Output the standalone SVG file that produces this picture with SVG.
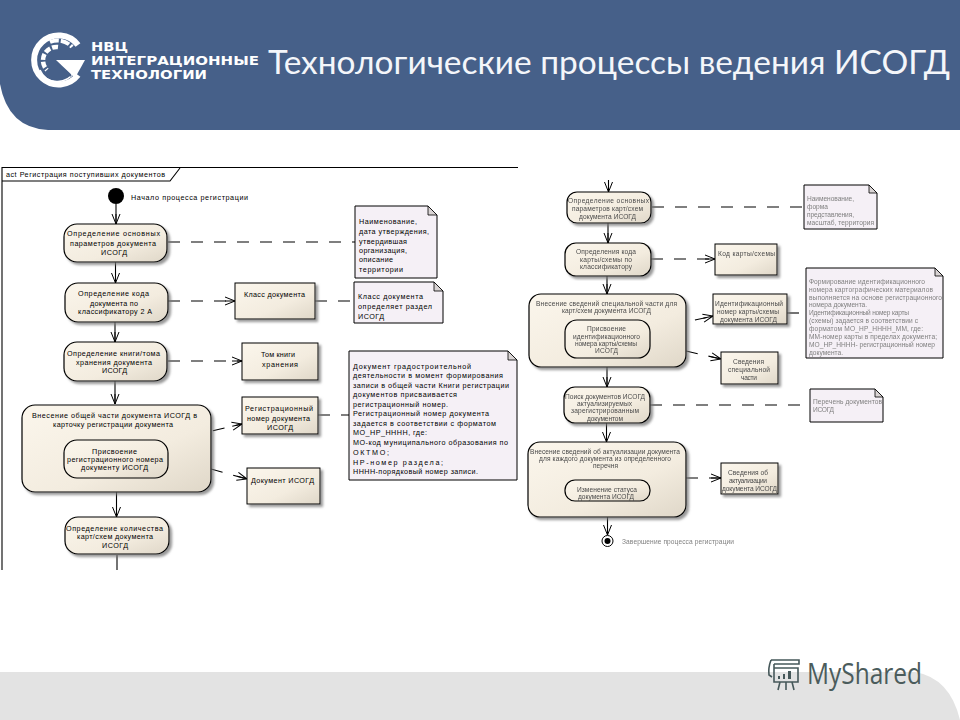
<svg xmlns="http://www.w3.org/2000/svg" width="960" height="720" viewBox="0 0 960 720">
<style>
text{font-family:"Liberation Sans",Arial,sans-serif}
.l{font-size:7.2px;fill:#000}
.r{font-size:6.6px;fill:#4a4a4a;filter:url(#soft)}
.g{font-size:6.6px;fill:#808080;filter:url(#soft)}
.a{fill:url(#grad);stroke:#000;stroke-width:1.2}
.b{fill:url(#grad);stroke:#000;stroke-width:1}
.n{fill:#f5f0f6;stroke:#000;stroke-width:1}
.f{fill:#d9d4d4;stroke:#000;stroke-width:.8}
.c{fill:none;stroke:#000;stroke-width:1.1}
.d{fill:none;stroke:#000;stroke-width:1.1;stroke-dasharray:12 11}
.ah{marker-end:url(#open)}
</style>
<defs>
<linearGradient id="grad" x1="0" y1="0" x2="1" y2="1"><stop offset="0" stop-color="#fbf6ec"/><stop offset=".6" stop-color="#f3ecdf"/><stop offset="1" stop-color="#dfd7c8"/></linearGradient>
<filter id="sh" x="-10%" y="-10%" width="125%" height="125%"><feDropShadow dx="2.5" dy="2.5" stdDeviation="1.2" flood-color="#777" flood-opacity=".75"/></filter>
<filter id="soft" x="-2%" y="-10%" width="104%" height="120%"><feGaussianBlur stdDeviation=".25"/></filter>
<marker id="open" markerUnits="userSpaceOnUse" markerWidth="12" markerHeight="10" refX="11" refY="5" orient="auto"><path d="M1,1 L11,5 L1,9 M1,5 H11" fill="none" stroke="#000" stroke-width="1"/></marker>
</defs>

<rect width="960" height="720" fill="#fff"/>
<g id="footer">
<path d="M0,672 H915 Q950,678 960,720 H0 Z" fill="#e3e3e3"/>
</g>
<g id="header">
<path d="M0,0 H960 V130 H48 Q8,128 0,84 Z" fill="#466089"/>
<g id="logo" fill="none" stroke="#fff">
<path d="M78,45 A24.500,24.500 0 1 0 78,75" stroke-width="6"/>
<path d="M50,42 A19,19 0 0 1 72,47" stroke-width="4" stroke-dasharray="9 2"/>
<path d="M40,70 A19,19 0 0 0 74,72" stroke-width="1.6"/>
<path d="M58,47 A13.500,13.500 0 0 0 47,70" stroke-width="4.500" stroke-dasharray="6 2"/>
<path d="M56,60 H85 L75,78 Z" fill="#fff" stroke="none"/>
<path d="M56,63 L71,76" stroke="#466089" stroke-width="2"/>
</g>
<text x="91" y="51" font-size="12" font-weight="700" fill="#fff" textLength="37" lengthAdjust="spacingAndGlyphs" style="font-family:'DejaVu Sans',sans-serif">НВЦ</text>
<text x="91" y="65" font-size="12" font-weight="700" fill="#fff" textLength="168" lengthAdjust="spacingAndGlyphs" style="font-family:'DejaVu Sans',sans-serif">ИНТЕГРАЦИОННЫЕ</text>
<text x="91" y="79" font-size="12" font-weight="700" fill="#fff" textLength="116" lengthAdjust="spacingAndGlyphs" style="font-family:'DejaVu Sans',sans-serif">ТЕХНОЛОГИИ</text>
<text x="268" y="74" font-size="32" fill="#f4f6fa" textLength="682" lengthAdjust="spacingAndGlyphs" style="font-family:Lato,'Open Sans',sans-serif">Технологические процессы ведения ИСОГД</text>
</g>
<g id="mark">
<g fill="none" stroke="#46585a" stroke-width="1.6">
<path d="M771,660 H799 V664 H774 M771,660 Q768,668 769,675 L772,677 M774,664 V668 M774,668 H798 V682 H774 Z"/>
<path d="M780,682 L778,690 M786,682 V690 M792,682 L794,690"/>
</g>
<path d="M778,676h2v3h-2zM783,674h2v5h-2zM788,671h3v8h-3z" fill="#46585a"/>
<text x="807" y="684" font-size="30" fill="#4b5c5c" textLength="115" lengthAdjust="spacingAndGlyphs" style="font-family:'Open Sans',sans-serif">MyShared</text>
</g>

<g id="frame">
<path d="M2,570 V167.500 H518" class="c"/>
<path d="M2,181 H170 L180,168" class="c"/>
<text class="l" x="6" y="177" textLength="159">act Регистрация поступивших документов</text>
</g>

<g id="connectors">
<path class="c ah" d="M116,204 V224"/>
<path class="c ah" d="M115.500,262 V283"/>
<path class="c ah" d="M115,322 V342"/>
<path class="c ah" d="M115,381 V404"/>
<path class="c ah" d="M116.500,492 V517"/>
<path class="c" d="M117,555 V570"/>
<path class="d" d="M168,242 H355"/>
<path class="d ah" d="M168,301 H235"/>
<path class="d ah" d="M168,361 H242"/>
<path class="d ah" d="M168,441 L242,424"/>
<path class="d ah" d="M211,469 L247,479"/>
<path class="d" d="M315,301 H355"/>
<path class="d" d="M318,415 H350"/>
<path class="c ah" d="M608.500,180 V192"/>
<path class="c ah" d="M608,223 V243"/>
<path class="c ah" d="M607,276 V294"/>
<path class="c ah" d="M607,367 V387"/>
<path class="c ah" d="M606.500,423 V442"/>
<path class="c ah" d="M607.500,517 V535"/>
<path class="d" d="M652,207 H803"/>
<path class="d ah" d="M651,259 H715"/>
<path class="d ah" d="M650,330 L713,316"/>
<path class="d ah" d="M686,351 L721,359"/>
<path class="d" d="M787,313 H806"/>
<path class="d" d="M650,405 H810"/>
<path class="d ah" d="M686,478 H721"/>
</g>

<g id="start"><circle cx="116" cy="196" r="8" fill="#000"/><text class="l" x="131" y="200" textLength="117">Начало процесса регистрации</text></g>

<g id="a1"><rect class="a" x="64" y="224" width="103" height="38" rx="13" filter="url(#sh)"/>
<text class="l" x="67" y="236" textLength="93">Определение основных</text><text class="l" x="70" y="246" textLength="86">параметров документа</text><text class="l" x="101" y="255" textLength="26">ИСОГД</text></g>
<g id="a2"><rect class="a" x="65" y="283" width="103" height="39" rx="13" filter="url(#sh)"/>
<text class="l" x="78" y="296" textLength="71">Определение кода</text><text class="l" x="90" y="306" textLength="48">документа по</text><text class="l" x="78" y="314" textLength="74">классификатору 2 А</text></g>
<g id="a3"><rect class="a" x="64" y="342" width="103" height="39" rx="13" filter="url(#sh)"/>
<text class="l" x="67" y="356" textLength="93">Определение книги/тома</text><text class="l" x="76" y="365" textLength="76">хранения документа</text><text class="l" x="102" y="373" textLength="25">ИСОГД</text></g>
<g id="a4"><rect class="a" x="22" y="405" width="189" height="87" rx="13" filter="url(#sh)"/>
<text class="l" x="32" y="418" textLength="165">Внесение общей части документа ИСОГД в</text><text class="l" x="53" y="427" textLength="120">карточку регистрации документа</text></g>
<g id="a4i"><rect class="a" x="64" y="440" width="104" height="38" rx="13"/>
<text class="l" x="92" y="454" textLength="45">Присвоение</text><text class="l" x="67" y="462" textLength="96">регистрационного номера</text><text class="l" x="81" y="470" textLength="67">документу ИСОГД</text></g>
<g id="a5"><rect class="a" x="65" y="517" width="104" height="37" rx="13" filter="url(#sh)"/>
<text class="l" x="66" y="531" textLength="97">Определение количества</text><text class="l" x="77" y="539" textLength="76">карт/схем документа</text><text class="l" x="102" y="548" textLength="26">ИСОГД</text></g>

<g id="b1"><rect class="b" x="235" y="283" width="80" height="36" filter="url(#sh)"/><text class="l" x="244" y="297" textLength="61">Класс документа</text></g>
<g id="b2"><rect class="b" x="242" y="343" width="76" height="37" filter="url(#sh)"/><text class="l" x="261" y="357" textLength="34">Том книги</text><text class="l" x="262" y="367" textLength="36">хранения</text></g>
<g id="b3"><rect class="b" x="242" y="397" width="76" height="37" filter="url(#sh)"/><text class="l" x="245" y="411" textLength="68">Регистрационный</text><text class="l" x="247" y="421" textLength="63">номер документа</text><text class="l" x="267" y="430" textLength="26">ИСОГД</text></g>
<g id="b4"><rect class="b" x="247" y="468" width="73" height="36" filter="url(#sh)"/><text class="l" x="251" y="483" textLength="63">Документ ИСОГД</text></g>

<g id="n1"><path class="n" d="M355,206 H428 L437,215 V278 H355 Z"/><path class="f" d="M428,206 V215 H437 Z"/>
<text class="l" x="359" y="224" textLength="58">Наименование,</text><text class="l" x="359" y="234" textLength="70">дата утверждения,</text><text class="l" x="359" y="244" textLength="48">утвердившая</text><text class="l" x="359" y="253" textLength="48">организация,</text><text class="l" x="359" y="262" textLength="34">описание</text><text class="l" x="359" y="272" textLength="44">территории</text></g>
<g id="n2"><path class="n" d="M354,282 H434 L443,291 V323 H354 Z"/><path class="f" d="M434,282 V291 H443 Z"/>
<text class="l" x="358" y="299" textLength="65">Класс документа</text><text class="l" x="358" y="309" textLength="74">определяет раздел</text><text class="l" x="358" y="319" textLength="26">ИСОГД</text></g>
<g id="n3"><path class="n" d="M349,351 H508 L517,360 V480 H349 Z"/><path class="f" d="M508,351 V360 H517 Z"/>
<text class="l" x="353" y="369" textLength="118">Документ градостроительной</text>
<text class="l" x="353" y="378" textLength="150">деятельности в момент формирования</text>
<text class="l" x="353" y="388" textLength="156">записи в общей части Книги регистрации</text>
<text class="l" x="353" y="397" textLength="104">документов присваивается</text>
<text class="l" x="353" y="407" textLength="95">регистрационный номер.</text>
<text class="l" x="353" y="416" textLength="136">Регистрационный номер документа</text>
<text class="l" x="353" y="426" textLength="143">задается в соответствии с форматом</text>
<text class="l" x="353" y="435" textLength="74">МО_НР_НННН, где:</text>
<text class="l" x="353" y="445" textLength="155">МО-код муниципального образования по</text>
<text class="l" x="353" y="455" textLength="36">ОКТМО;</text>
<text class="l" x="353" y="465" textLength="90">НР-номер раздела;</text>
<text class="l" x="353" y="474" textLength="125">НННН-порядковый номер записи.</text></g>

<g id="r1"><rect class="a" x="567" y="192" width="84" height="31" rx="10" filter="url(#sh)"/>
<text class="r" x="568" y="202.500" textLength="81">Определение основных</text><text class="r" x="572" y="210.500" textLength="71">параметров карт/схем</text><text class="r" x="579" y="218.500" textLength="57">документа ИСОГД</text></g>
<g id="r2"><rect class="a" x="565" y="243" width="86" height="33" rx="11" filter="url(#sh)"/>
<text class="r" x="576" y="253.500" textLength="60">Определения кода</text><text class="r" x="580" y="261.500" textLength="52">карты/схемы по</text><text class="r" x="580" y="268.500" textLength="52">классификатору</text></g>
<g id="r3"><rect class="a" x="529" y="294" width="157" height="73" rx="12" filter="url(#sh)"/>
<text class="r" x="536" y="305.500" textLength="141">Внесение сведений специальной части для</text><text class="r" x="562" y="312.500" textLength="89">карт/схем документа ИСОГД</text></g>
<g id="r3i"><rect class="a" x="565" y="320" width="85" height="38" rx="12"/>
<text class="r" x="587" y="330.500" textLength="39">Присвоение</text><text class="r" x="573" y="338.500" textLength="67">идентификационного</text><text class="r" x="575" y="345.500" textLength="62">номера карты/схемы</text><text class="r" x="595" y="352.500" textLength="23">ИСОГД</text></g>
<g id="r4"><rect class="a" x="564" y="387" width="86" height="36" rx="11" filter="url(#sh)"/>
<text class="r" x="565" y="398.500" textLength="80">Поиск документов ИСОГД</text><text class="r" x="577" y="405.500" textLength="55">актуализируемых</text><text class="r" x="571" y="412.500" textLength="68">зарегистрированным</text><text class="r" x="587" y="420.500" textLength="36">документом</text></g>
<g id="r5"><rect class="a" x="528" y="442" width="158" height="75" rx="12" filter="url(#sh)"/>
<text class="r" x="530" y="453.500" textLength="150">Внесение сведений об актуализации документа</text><text class="r" x="539" y="460.500" textLength="132">для каждого документа из определенного</text><text class="r" x="593" y="467.500" textLength="25">перечня</text></g>
<g id="r5i"><rect class="a" x="565" y="480" width="85" height="21" rx="10"/>
<text class="r" x="577" y="491.500" textLength="60">Изменение статуса</text><text class="r" x="578" y="498.500" textLength="56">документа ИСОГД</text></g>
<g id="end"><circle cx="607.500" cy="541" r="5.500" fill="#fff" stroke="#000"/><circle cx="607.500" cy="541" r="3" fill="#000"/><text class="g" x="622" y="544" textLength="112">Завершение процесса регистрации</text></g>

<g id="q1"><rect class="b" x="715" y="244" width="62" height="31" filter="url(#sh)"/><text class="r" x="718" y="255.500" textLength="57">Код карты/схемы</text></g>
<g id="q2"><rect class="b" x="713" y="294" width="74" height="30" filter="url(#sh)"/><text class="r" x="715" y="305.500" textLength="68">Идентификационный</text><text class="r" x="717" y="313.500" textLength="62">номер карты/схемы</text><text class="r" x="720" y="321.500" textLength="57">документа ИСОГД</text></g>
<g id="q3"><rect class="b" x="721" y="352" width="57" height="32" filter="url(#sh)"/><text class="r" x="733" y="363.500" textLength="31">Сведения</text><text class="r" x="728" y="371.500" textLength="42">специальной</text><text class="r" x="741" y="379.500" textLength="16">части</text></g>
<g id="q4"><rect class="b" x="721" y="463" width="57" height="31" filter="url(#sh)"/><text class="r" x="728" y="474.500" textLength="40">Сведения об</text><text class="r" x="729" y="482.500" textLength="38">актуализации</text><text class="r" x="722" y="490.500" textLength="55">документа ИСОГД</text></g>

<g id="m1"><path class="n" d="M804,185 H869 L877,193 V229 H804 Z"/><path class="f" d="M869,185 V193 H877 Z"/>
<text class="g" x="807" y="200.500" textLength="47">Наименование,</text><text class="g" x="807" y="208.500" textLength="21">форма</text><text class="g" x="807" y="216.500" textLength="47">представления,</text><text class="g" x="807" y="224.500" textLength="67">масштаб, территория</text></g>
<g id="m2"><path class="n" d="M806,268 H935 L943,276 V358 H806 Z"/><path class="f" d="M935,268 V276 H943 Z"/>
<text class="g" x="809" y="283.500" textLength="116">Формирование идентификационного</text>
<text class="g" x="809" y="291.500" textLength="124">номера картографических материалов</text>
<text class="g" x="809" y="299.500" textLength="133">выполняется на основе регистрационного</text>
<text class="g" x="809" y="306.500" textLength="58">номера документа.</text>
<text class="g" x="809" y="314.500" textLength="100">Идентификационный номер карты</text>
<text class="g" x="809" y="322.500" textLength="109">(схемы) задается в соответствии с</text>
<text class="g" x="809" y="330.500" textLength="114">форматом МО_НР_НННН_ММ, где:</text>
<text class="g" x="809" y="338.500" textLength="128">ММ-номер карты в пределах документа;</text>
<text class="g" x="809" y="346.500" textLength="126">МО_НР_НННН- регистрационный номер</text>
<text class="g" x="809" y="354.500" textLength="34">документа.</text></g>
<g id="m3"><path class="n" d="M810,389 H875 L883,397 V422 H810 Z"/><path class="f" d="M875,389 V397 H883 Z"/>
<text class="g" x="813" y="403.500" textLength="69">Перечень документов</text><text class="g" x="813" y="411.500" textLength="21">ИСОГД</text></g>
</svg>
